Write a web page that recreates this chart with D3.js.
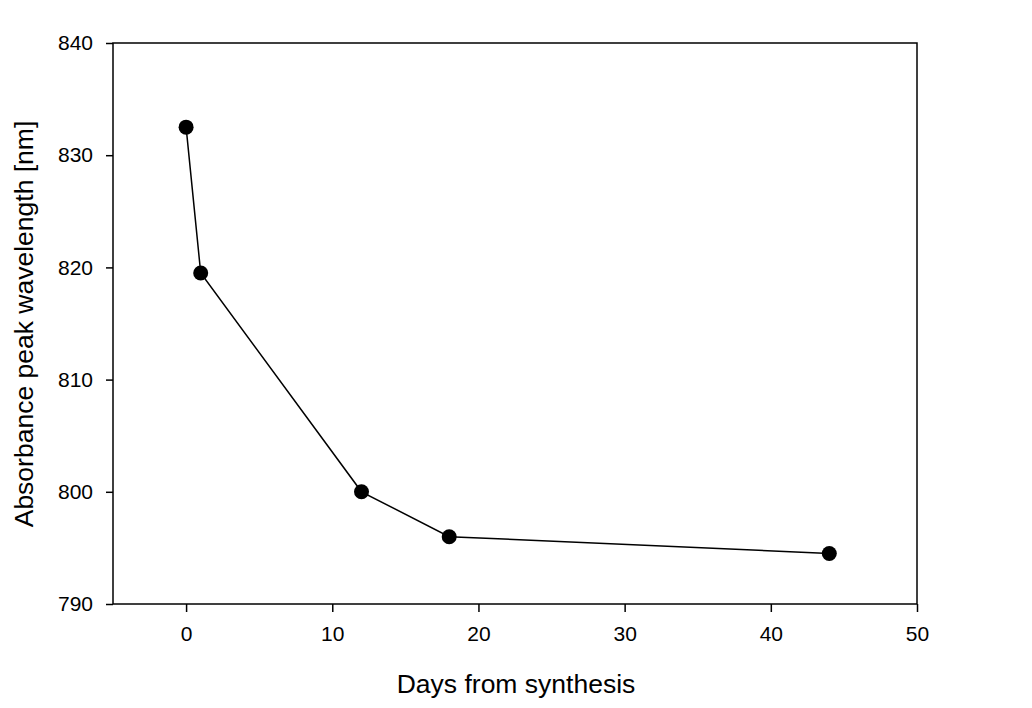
<!DOCTYPE html>
<html>
<head>
<meta charset="utf-8">
<script src="https://d3js.org/d3.v7.min.js"></script>
<style>
  body { margin: 0; background: #fff; }
  svg { display: block; font-family: "Liberation Sans", Arial, sans-serif; }
  .axis line { stroke: #000; stroke-width: 1.5px; }
  .axis text { font-size: 21px; fill: #000; font-family: "Liberation Sans", Arial, sans-serif; }
</style>
</head>
<body>
<svg width="1032" height="708"></svg>
<script>
// data
var days = [0, 1, 12, 18, 44];
var peak = [832.5, 819.5, 800, 796, 794.5];
var xTicks = [0, 10, 20, 30, 40, 50];
var yTicks = [790, 800, 810, 820, 830, 840];

function draw() {
  var svg = d3.select("svg");
  var mLeft = 113, mRight = 917, mTop = 43, mBottom = 604;

  var x = d3.scaleLinear().domain([-5, 50]).range([mLeft, mRight]);
  var y = d3.scaleLinear().domain([790, 840]).range([mBottom, mTop]);

  // frame
  svg.append("rect")
    .attr("x", mLeft).attr("y", mTop)
    .attr("width", mRight - mLeft).attr("height", mBottom - mTop)
    .attr("fill", "none").attr("stroke", "#000").attr("stroke-width", 1.5);

  svg.append("g").attr("class", "axis")
    .attr("transform", "translate(0," + mBottom + ")")
    .call(d3.axisBottom(x).tickValues(xTicks).tickSizeOuter(0).tickSize(8).tickPadding(14))
    .call(function(g){ g.select(".domain").remove(); });

  svg.append("g").attr("class", "axis")
    .attr("transform", "translate(" + mLeft + ",0)")
    .call(d3.axisLeft(y).tickValues(yTicks).tickSizeOuter(0).tickSize(7).tickPadding(13))
    .call(function(g){ g.select(".domain").remove(); });

  var pts = days.map(function(d, i){ return [d, peak[i]]; });

  svg.append("path")
    .datum(pts)
    .attr("fill", "none").attr("stroke", "#000").attr("stroke-width", 1.5)
    .attr("d", d3.line().x(function(d){ return x(d[0]); }).y(function(d){ return y(d[1]); }));

  svg.selectAll("circle.pt").data(pts).enter().append("circle")
    .attr("class", "pt")
    .attr("cx", function(d){ return x(d[0]); })
    .attr("cy", function(d){ return y(d[1]); })
    .attr("r", 7.5).attr("fill", "#000");

  svg.append("text")
    .attr("x", 516).attr("y", 693)
    .attr("text-anchor", "middle").attr("font-size", 26.5)
    .text("Days from synthesis");

  svg.append("text")
    .attr("transform", "translate(33,324) rotate(-90)")
    .attr("text-anchor", "middle").attr("font-size", 26.5)
    .text("Absorbance peak wavelength [nm]");
}
draw();
</script>
</body>
</html>
